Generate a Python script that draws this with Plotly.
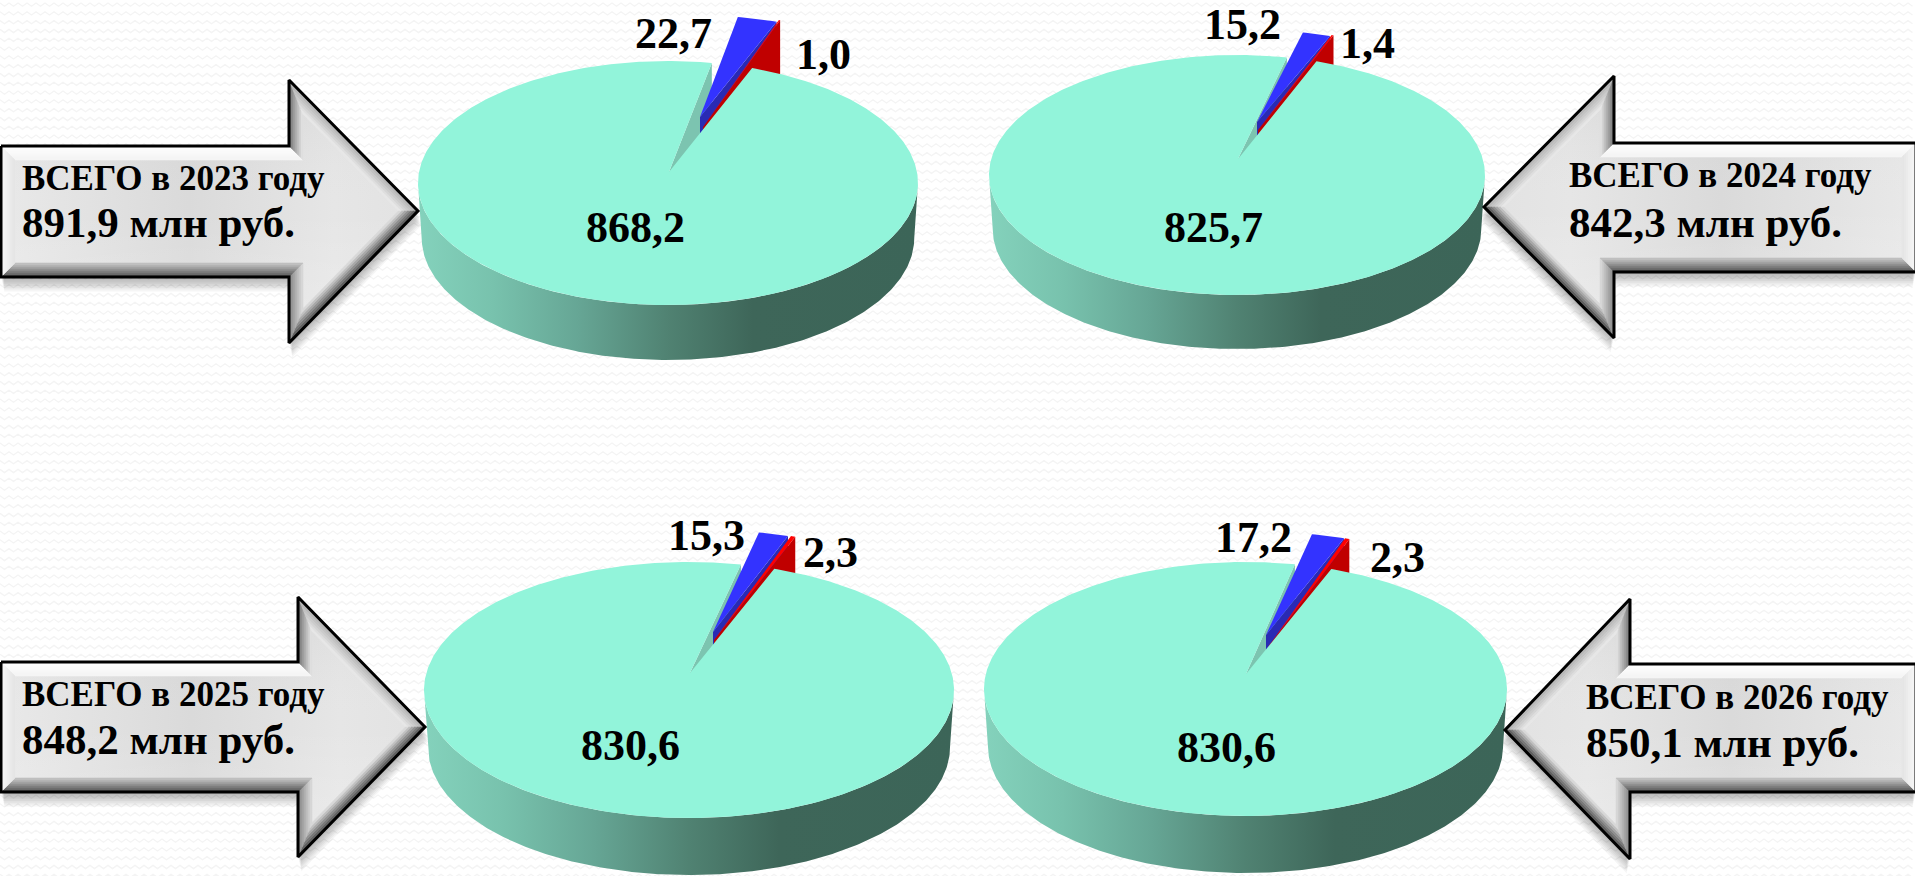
import math
import plotly.graph_objects as go

# ---------- data ----------
YEARS = [2023, 2024, 2025, 2026]
MAIN_VALUES = [868.2, 825.7, 830.6, 830.6]
BLUE_VALUES = [22.7, 15.2, 15.3, 17.2]
RED_VALUES = [1.0, 1.4, 2.3, 2.3]
TOTALS = [891.9, 842.3, 848.2, 850.1]

# ---------- layout constants (pixels of the 1915x876 canvas) ----------
W, H = 1915, 876
FONT = "Liberation Serif"
PIES = [
    dict(cx=668, cy=183, rx=250, ry=122, depth=55, start=10.1, apex=(669, 172),
         btip=(700, 117), boff=(26, -46), rtip=(703, 127), roff=(28, -48),
         lab_main=(635, 227), lab_blue=(673, 33), lab_red=(823, 54)),
    dict(cx=1237, cy=175, rx=248, ry=120, depth=54, start=11.6, apex=(1238, 159),
         btip=(1257, 122), boff=(16, -25), rtip=(1258, 130), roff=(17, -26),
         lab_main=(1213, 227), lab_blue=(1242, 24), lab_red=(1367, 43)),
    dict(cx=689, cy=690, rx=265, ry=128, depth=57, start=11.3, apex=(690, 673),
         btip=(713, 632), boff=(18, -32), rtip=(714, 640), roff=(21, -32),
         lab_main=(630, 745), lab_blue=(706, 535), lab_red=(830, 552)),
    dict(cx=1245.5, cy=689, rx=261.5, ry=127, depth=57, start=10.9, apex=(1246, 674),
         btip=(1266, 635), boff=(17, -30), rtip=(1268, 647), roff=(18, -30),
         lab_main=(1226, 747), lab_blue=(1253, 537), lab_red=(1397, 557)),
]
ARROWS = [
    dict(dir=1, end=1, neck=289, tip=418, mid=211, htop=80, hbot=343, btop=146, bbot=277, tx=19.5, y1=178, y2=222),
    dict(dir=-1, end=1916, neck=1614, tip=1484, mid=207, htop=76, hbot=338, btop=143, bbot=272, tx=1566.5, y1=175, y2=222),
    dict(dir=1, end=1, neck=298, tip=425, mid=727, htop=597, hbot=857, btop=662, bbot=792, tx=19.5, y1=694, y2=739),
    dict(dir=-1, end=1916, neck=1630, tip=1505, mid=730, htop=599, hbot=859, btop=664, bbot=792, tx=1583.5, y1=697, y2=742),
]
MAIN_TOP = "#92f4da"
MAIN_CUT = "#7cc4b0"
BLUE_TOP = "#3333ff"
BLUE_SIDE = "#2a2ab4"
RED_TOP = "#ff0000"
RED_SIDE = "#c00000"
WALL_SCALE = [[0, "#84d2bc"], [0.15, "#78c2ad"], [0.32, "#66a695"], [0.5, "#508272"], [0.67, "#3e6659"], [1, "#3c6558"]]
BEVEL = 14
BEVEL_STEPS = 7
# per edge (outer colour, inner colour): body top, upper neck, upper head, lower head, lower neck, body bottom, end
EDGE_COLORS = [
    ((255, 255, 255), (244, 244, 244)),
    ((110, 110, 110), (232, 232, 232)),
    ((170, 170, 170), (236, 236, 236)),
    ((60, 60, 60), (228, 228, 228)),
    ((130, 130, 130), (220, 220, 220)),
    ((80, 80, 80), (200, 200, 200)),
    ((250, 250, 250), (228, 228, 228)),
]

fig = go.Figure()


def poly(pts, color=None, gradient=None, line=None, line_w=0):
    xs = [p[0] for p in pts] + [pts[0][0]]
    ys = [p[1] for p in pts] + [pts[0][1]]
    kw = dict(x=xs, y=ys, mode="lines", hoverinfo="skip", showlegend=False)
    if color is None and gradient is None:
        kw["line"] = dict(color=line, width=line_w)
    else:
        kw["fill"] = "toself"
        kw["line"] = dict(color=line or "rgba(0,0,0,0)", width=line_w)
        if gradient:
            kw["fillgradient"] = gradient
        else:
            kw["fillcolor"] = color
    fig.add_trace(go.Scatter(**kw))


def rim(p, deg, off=(0, 0)):
    t = math.radians(deg)
    return (p["cx"] + p["rx"] * math.sin(t) + off[0], p["cy"] - p["ry"] * math.cos(t) + off[1])


def arc(p, a, b, off=(0, 0), n=None):
    n = n or max(2, int(abs(b - a) * 1.5))
    return [rim(p, a + (b - a) * i / n, off) for i in range(n + 1)]


def down(pt, d):
    return (pt[0], pt[1] + d)


def draw_pie(p, main, blue, red):
    total = main + blue + red
    a0 = p["start"]
    a1 = a0 + blue / total * 360
    a2 = a1 + red / total * 360
    d = p["depth"]
    # outer wall of the drum
    top_half = arc(p, 90, 270)
    low_half = [(p["cx"] + (x - p["cx"]) * 0.985, y + d) for x, y in top_half]
    poly(top_half + low_half[::-1], gradient=dict(type="horizontal", colorscale=WALL_SCALE))
    # cut face of the big slice
    ap = p["apex"]
    l = rim(p, a0)
    poly([ap, l, down(l, d), down(ap, d)], color=MAIN_CUT)
    # blue slice
    bt = p["btip"]
    bb = rim(p, a1, p["boff"])
    poly([bt, bb, down(bb, d), down(bt, d)], color=BLUE_SIDE)
    poly([bt] + arc(p, a0, a1, p["boff"]), color=BLUE_TOP)
    # red slice
    rt = p["rtip"]
    rr = rim(p, a2, p["roff"])
    poly([rt, rr, down(rr, d), down(rt, d)], color=RED_SIDE)
    poly([rt] + arc(p, a1, a2, p["roff"], 4), color=RED_TOP)
    # big slice top
    poly([ap] + arc(p, a2, a0 + 360), color=MAIN_TOP)


def inset(pts, d):
    # miter offset towards the interior (points run clockwise on screen)
    n = len(pts)
    out = []
    for i in range(n):
        x0, y0 = pts[i - 1]
        x1, y1 = pts[i]
        x2, y2 = pts[(i + 1) % n]
        ax, ay = x1 - x0, y1 - y0
        bx, by = x2 - x1, y2 - y1
        la, lb = math.hypot(ax, ay), math.hypot(bx, by)
        na = (-ay / la, ax / la)
        nb = (-by / lb, bx / lb)
        det = ax * by - ay * bx
        px, py = x0 + na[0] * d, y0 + na[1] * d
        qx, qy = x1 + nb[0] * d, y1 + nb[1] * d
        t = ((qx - px) * by - (qy - py) * bx) / det
        out.append((px + ax * t, py + ay * t))
    return out


def mix(c0, c1, t):
    return "rgb(%d,%d,%d)" % tuple(round(c0[i] + (c1[i] - c0[i]) * t) for i in range(3))


def draw_arrow(a, line1, line2):
    e, n, t, m = a["end"], a["neck"], a["tip"], a["mid"]
    pts = [(e, a["btop"]), (n, a["btop"]), (n, a["htop"]), (t, m), (n, a["hbot"]), (n, a["bbot"]), (e, a["bbot"])]
    sign = 1 if a["dir"] == 1 else -1
    for k in range(1, 9):
        poly([(x + sign * 0.4 * k, y + 1.8 * k) for x, y in pts], color="rgba(0,0,0,0.04)")
    # sideways sheen: lighter at the tail and the head, darker in the middle
    sheen = [[0, "#e9e9e9"], [0.45, "#dadada"], [0.8, "#e6e6e6"], [1, "#e2e2e2"]]
    if a["dir"] == -1:
        sheen = [[1 - s, c] for s, c in sheen][::-1]
    poly(pts, gradient=dict(type="horizontal", colorscale=sheen))
    poly(pts, gradient=dict(type="vertical", colorscale=[[0, "rgba(255,255,255,0.25)"], [0.5, "rgba(255,255,255,0)"],
                                                         [1, "rgba(0,0,0,0.05)"]]))
    d_sign = 1 if a["dir"] == 1 else -1
    n_pts = len(pts)
    for s in range(BEVEL_STEPS):
        o = inset(pts, d_sign * BEVEL * s / BEVEL_STEPS)
        i = inset(pts, d_sign * BEVEL * (s + 1) / BEVEL_STEPS)
        for k in range(n_pts):
            k2 = (k + 1) % n_pts
            c = mix(EDGE_COLORS[k][0], EDGE_COLORS[k][1], (s + 0.5) / BEVEL_STEPS)
            poly([o[k], o[k2], i[k2], i[k]], color=c, line=c, line_w=0.6)
    poly(pts, line="#000000", line_w=3)
    fig.add_annotation(x=a["tx"], y=a["y1"], text=line1, xanchor="left", yanchor="middle", showarrow=False,
                       font=dict(family=FONT, size=35, color="#000000"))
    fig.add_annotation(x=a["tx"], y=a["y2"], text=line2, xanchor="left", yanchor="middle", showarrow=False,
                       font=dict(family=FONT, size=43, color="#000000"))


def fmt(v):
    return f"{v:.1f}".replace(".", ",")


for p, mv, bv, rv in zip(PIES, MAIN_VALUES, BLUE_VALUES, RED_VALUES):
    draw_pie(p, mv, bv, rv)
    for key, v in (("lab_main", mv), ("lab_blue", bv), ("lab_red", rv)):
        fig.add_annotation(x=p[key][0], y=p[key][1], text=f"<b>{fmt(v)}</b>", showarrow=False,
                           font=dict(family=FONT, size=44, color="#000000"))

for a, y, tot in zip(ARROWS, YEARS, TOTALS):
    draw_arrow(a, f"<b>ВСЕГО в {y} году</b>", f"<b>{fmt(tot)} млн руб.</b>")

# faint zigzag paper texture
parts = []
for row in range(0, int(H / 8.8) + 2):
    y0 = 3 + row * 8.8
    pts = []
    x = 0.0
    up = True
    while x <= W:
        pts.append(f"{x:.1f},{y0 + (0 if up else 3.2):.1f}")
        x += 4.5
        up = not up
    parts.append("M" + "L".join(pts))
texture = dict(type="path", path="".join(parts), xref="x", yref="y", layer="below",
               line=dict(color="#f4f4f4", width=1.3))

fig.update_layout(
    width=W, height=H, margin=dict(l=0, r=0, t=0, b=0), autosize=False,
    paper_bgcolor="#ffffff", plot_bgcolor="rgba(0,0,0,0)", showlegend=False,
    xaxis=dict(range=[0, W], visible=False, fixedrange=True),
    yaxis=dict(range=[H, 0], visible=False, fixedrange=True),
    shapes=[texture],
)
fig.write_html("out.html", config={"displayModeBar": False},
               post_script="document.body.style.margin='0';document.body.style.overflow='hidden';")
